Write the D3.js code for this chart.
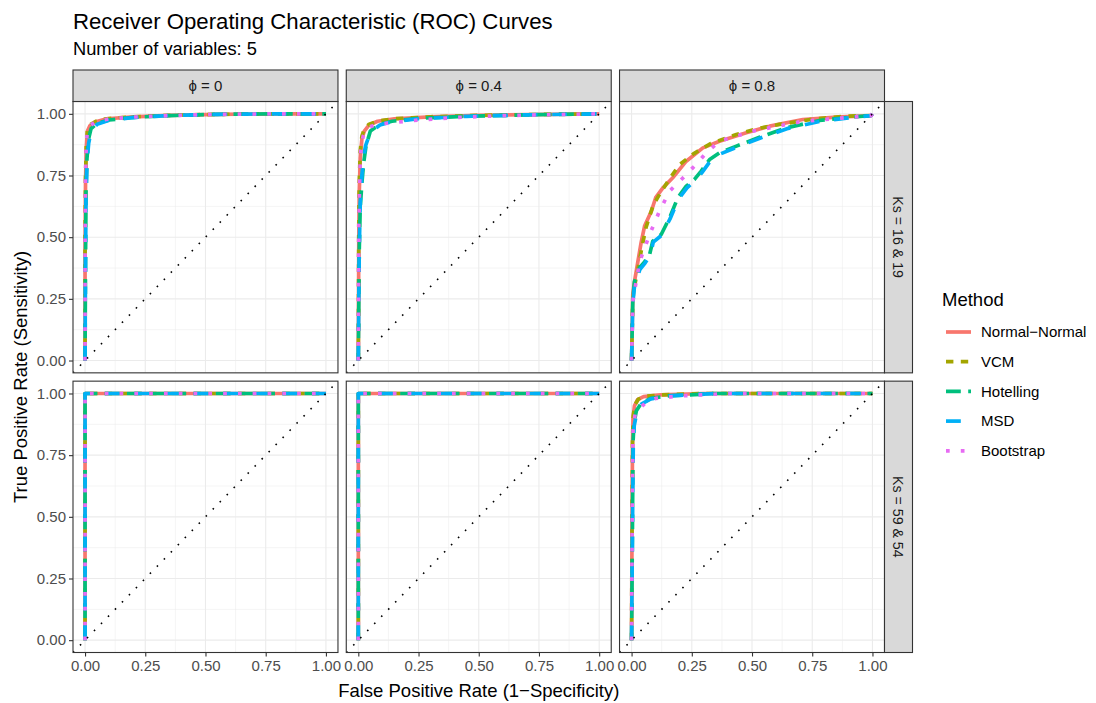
<!DOCTYPE html>
<html>
<head>
<meta charset="utf-8">
<script src="https://cdn.jsdelivr.net/npm/d3@7"></script>
<style>
body { margin: 0; background: #fff; }
text { font-family: "Liberation Sans", Arial, sans-serif; }
</style>
</head>
<body>
<script>
// ---- data ----
var methods = ["Normal\u2212Normal", "VCM", "Hotelling", "MSD", "Bootstrap"];
var colours = ["#F8766D", "#A3A500", "#00BF7D", "#00B0F6", "#E76BF3"];
var dashes = ["none", "7.4,7.4", "14.8,7.4", "14.8,14.8", "3.7,11.1"];
var phiLabels = ["\u03D5 = 0", "\u03D5 = 0.4", "\u03D5 = 0.8"];
var ksLabels = ["Ks = 16 & 19", "Ks = 59 & 54"];
var ticks = [0, 0.25, 0.5, 0.75, 1];
var minorTicks = [0.125, 0.375, 0.625, 0.875];

// [fpr, tpr] pairs, one array per method per panel
// Ks = 16 & 19, phi = 0
var r1c1_nn   = [[0,0],[0,0.45],[0.002,0.72],[0.005,0.86],[0.01,0.93],[0.02,0.952],[0.045,0.968],[0.09,0.98],[0.2,0.988],[0.35,0.994],[0.55,0.998],[0.8,1],[1,1]];
var r1c1_vcm  = [[0,0],[0,0.5],[0.002,0.74],[0.005,0.87],[0.01,0.935],[0.02,0.955],[0.045,0.97],[0.09,0.98],[0.2,0.988],[0.35,0.994],[0.55,0.998],[0.8,1],[1,1]];
var r1c1_hot  = [[0,0],[0.002,0.4],[0.004,0.68],[0.008,0.82],[0.015,0.9],[0.025,0.94],[0.05,0.962],[0.1,0.975],[0.2,0.986],[0.35,0.993],[0.55,0.998],[0.8,1],[1,1]];
var r1c1_msd  = [[0,0],[0.002,0.4],[0.004,0.66],[0.008,0.8],[0.015,0.88],[0.025,0.93],[0.05,0.958],[0.1,0.974],[0.2,0.985],[0.35,0.993],[0.55,0.998],[0.8,1],[1,1]];
var r1c1_boot = [[0,0],[0,0.5],[0.002,0.75],[0.005,0.88],[0.01,0.93],[0.02,0.952],[0.045,0.968],[0.09,0.978],[0.2,0.987],[0.35,0.993],[0.55,0.998],[0.8,1],[1,1]];
// Ks = 16 & 19, phi = 0.4
var r1c2_nn   = [[0,0],[0.002,0.5],[0.004,0.68],[0.008,0.82],[0.015,0.9],[0.025,0.93],[0.045,0.955],[0.08,0.97],[0.15,0.98],[0.3,0.988],[0.5,0.994],[0.8,0.998],[1,1]];
var r1c2_vcm  = [[0,0],[0.002,0.55],[0.004,0.72],[0.008,0.85],[0.015,0.91],[0.025,0.94],[0.045,0.958],[0.08,0.97],[0.15,0.98],[0.3,0.988],[0.5,0.994],[0.8,0.998],[1,1]];
var r1c2_hot  = [[0,0],[0.004,0.45],[0.008,0.62],[0.015,0.72],[0.022,0.8],[0.032,0.87],[0.05,0.93],[0.09,0.958],[0.14,0.97],[0.25,0.982],[0.45,0.99],[0.7,0.996],[1,1]];
var r1c2_msd  = [[0,0],[0.004,0.45],[0.008,0.64],[0.014,0.74],[0.02,0.81],[0.03,0.87],[0.05,0.925],[0.09,0.955],[0.14,0.968],[0.25,0.98],[0.45,0.99],[0.7,0.996],[1,1]];
var r1c2_boot = [[0,0],[0.002,0.55],[0.006,0.75],[0.01,0.85],[0.02,0.91],[0.04,0.945],[0.08,0.958],[0.15,0.965],[0.25,0.975],[0.4,0.985],[0.6,0.993],[1,1]];
// Ks = 16 & 19, phi = 0.8
var r1c3_nn   = [[0,0],[0.005,0.27],[0.012,0.32],[0.026,0.4],[0.04,0.48],[0.054,0.545],[0.082,0.605],[0.1,0.66],[0.13,0.7],[0.17,0.74],[0.227,0.808],[0.296,0.862],[0.365,0.889],[0.476,0.923],[0.573,0.95],[0.711,0.977],[0.85,0.987],[0.995,0.993],[1,1]];
var r1c3_vcm  = [[0,0],[0.005,0.25],[0.014,0.31],[0.03,0.39],[0.045,0.47],[0.06,0.54],[0.09,0.63],[0.12,0.68],[0.16,0.74],[0.2,0.795],[0.26,0.84],[0.33,0.88],[0.435,0.916],[0.52,0.94],[0.614,0.957],[0.75,0.978],[0.88,0.99],[0.995,0.993],[1,1]];
var r1c3_hot  = [[0,0],[0.005,0.24],[0.012,0.32],[0.033,0.376],[0.054,0.4],[0.075,0.43],[0.088,0.484],[0.123,0.511],[0.158,0.579],[0.192,0.66],[0.227,0.707],[0.261,0.734],[0.289,0.768],[0.324,0.815],[0.365,0.842],[0.435,0.869],[0.531,0.905],[0.642,0.943],[0.78,0.973],[0.919,0.987],[0.995,0.993],[1,1]];
var r1c3_msd  = [[0,0],[0.005,0.23],[0.013,0.31],[0.035,0.37],[0.056,0.395],[0.078,0.428],[0.09,0.48],[0.125,0.508],[0.16,0.575],[0.195,0.655],[0.23,0.7],[0.265,0.73],[0.292,0.762],[0.328,0.81],[0.37,0.838],[0.44,0.866],[0.535,0.902],[0.645,0.94],[0.785,0.97],[0.92,0.986],[0.995,0.993],[1,1]];
var r1c3_boot = [[0,0],[0.005,0.24],[0.033,0.4],[0.075,0.511],[0.116,0.606],[0.158,0.687],[0.213,0.74],[0.268,0.795],[0.31,0.842],[0.365,0.889],[0.504,0.93],[0.711,0.97],[0.995,0.993],[1,1]];
// Ks = 59 & 54, phi = 0 and 0.4
var r2c1_all  = [[0,0],[0,1],[1,1]];
var r2c2_all  = [[0,0],[0,1],[1,1]];
// Ks = 59 & 54, phi = 0.8
var r2c3_nn   = [[0,0],[0.002,0.5],[0.004,0.8],[0.006,0.9],[0.012,0.95],[0.025,0.975],[0.05,0.987],[0.12,0.994],[0.3,1],[1,1]];
var r2c3_vcm  = [[0,0],[0.002,0.52],[0.004,0.82],[0.007,0.91],[0.014,0.955],[0.028,0.977],[0.055,0.988],[0.12,0.994],[0.3,1],[1,1]];
var r2c3_hot  = [[0,0],[0.004,0.5],[0.006,0.8],[0.01,0.88],[0.02,0.93],[0.04,0.96],[0.08,0.98],[0.15,0.99],[0.35,1],[1,1]];
var r2c3_msd  = [[0,0],[0.004,0.48],[0.007,0.78],[0.011,0.87],[0.022,0.925],[0.042,0.958],[0.08,0.978],[0.15,0.99],[0.35,1],[1,1]];
var r2c3_boot = [[0,0],[0.003,0.6],[0.006,0.85],[0.015,0.92],[0.033,0.937],[0.06,0.965],[0.1,0.98],[0.2,0.99],[0.4,1],[1,1]];

var panelCurves = [
  [[r1c1_nn, r1c1_vcm, r1c1_hot, r1c1_msd, r1c1_boot],
   [r1c2_nn, r1c2_vcm, r1c2_hot, r1c2_msd, r1c2_boot],
   [r1c3_nn, r1c3_vcm, r1c3_hot, r1c3_msd, r1c3_boot]],
  [[r2c1_all, r2c1_all, r2c1_all, r2c1_all, r2c1_all],
   [r2c2_all, r2c2_all, r2c2_all, r2c2_all, r2c2_all],
   [r2c3_nn, r2c3_vcm, r2c3_hot, r2c3_msd, r2c3_boot]]
];

// ---- layout ----
var W = 1096, H = 703;
var pLeft = 73, pRight = 884.5, pTop = 101.5, pBottom = 652.5;
var gap = 8.3, stripH = 31.5, stripW = 28;
var pw = (pRight - pLeft - 2 * gap) / 3;
var ph = (pBottom - pTop - gap) / 2;
var lw = 3.7;
var fsTick = 15;

var svg = d3.select("body").append("svg").attr("width", W).attr("height", H);
svg.append("rect").attr("width", W).attr("height", H).attr("fill", "#fff");

var x = d3.scaleLinear().domain([-0.05, 1.05]).range([0, pw]);
var y = d3.scaleLinear().domain([-0.05, 1.05]).range([ph, 0]);

var line = d3.line().x(function(d) { return x(d[0]); }).y(function(d) { return y(d[1]); });

function gpos(a, b) { return "translate(" + a + "," + b + ")"; }

// title
svg.append("text").attr("x", pLeft).attr("y", 29).attr("font-size", 22.2).attr("fill", "#000")
  .text("Receiver Operating Characteristic (ROC) Curves");
svg.append("text").attr("x", pLeft).attr("y", 55).attr("font-size", 18.3).attr("fill", "#000")
  .text("Number of variables: 5");

var defs = svg.append("defs");
defs.append("clipPath").attr("id", "pclip").append("rect").attr("width", pw).attr("height", ph);

for (var r = 0; r < 2; r++) {
  for (var c = 0; c < 3; c++) {
    var px = pLeft + c * (pw + gap), py = pTop + r * (ph + gap);
    var g = svg.append("g").attr("transform", gpos(px, py));
    var inner = g.append("g").attr("clip-path", "url(#pclip)");

    inner.selectAll(".minx").data(minorTicks).enter().append("line")
      .attr("x1", x).attr("x2", x).attr("y1", 0).attr("y2", ph)
      .attr("stroke", "#ebebeb").attr("stroke-width", 0.55);
    inner.selectAll(".miny").data(minorTicks).enter().append("line")
      .attr("y1", y).attr("y2", y).attr("x1", 0).attr("x2", pw)
      .attr("stroke", "#ebebeb").attr("stroke-width", 0.55);
    inner.selectAll(".majx").data(ticks).enter().append("line")
      .attr("x1", x).attr("x2", x).attr("y1", 0).attr("y2", ph)
      .attr("stroke", "#ebebeb").attr("stroke-width", 1.1);
    inner.selectAll(".majy").data(ticks).enter().append("line")
      .attr("y1", y).attr("y2", y).attr("x1", 0).attr("x2", pw)
      .attr("stroke", "#ebebeb").attr("stroke-width", 1.1);

    inner.selectAll(".roc").data(panelCurves[r][c]).enter().append("path")
      .attr("d", line)
      .attr("fill", "none")
      .attr("stroke", function(d, i) { return colours[i]; })
      .attr("stroke-width", lw)
      .attr("stroke-dasharray", function(d, i) { return dashes[i]; })
      .attr("stroke-linejoin", "round");

    inner.append("line")
      .attr("x1", x(-0.05)).attr("y1", y(-0.05)).attr("x2", x(1.05)).attr("y2", y(1.05))
      .attr("stroke", "#000").attr("stroke-width", 1.6).attr("stroke-dasharray", "1.6,8.4");

    g.append("rect").attr("width", pw).attr("height", ph)
      .attr("fill", "none").attr("stroke", "#333").attr("stroke-width", 1.1);

    if (c === 0) {
      var ay = g.append("g").call(d3.axisLeft(y).tickValues(ticks).tickFormat(d3.format(".2f")).tickSize(4).tickPadding(3));
      ay.select(".domain").remove();
      ay.selectAll("line").attr("stroke", "#333").attr("stroke-width", 1.1);
      ay.selectAll("text").attr("fill", "#4d4d4d").attr("font-size", fsTick)
        .attr("font-family", "Liberation Sans, Arial, sans-serif");
    }
    if (r === 1) {
      var ax = g.append("g").attr("transform", gpos(0, ph))
        .call(d3.axisBottom(x).tickValues(ticks).tickFormat(d3.format(".2f")).tickSize(4).tickPadding(4));
      ax.select(".domain").remove();
      ax.selectAll("line").attr("stroke", "#333").attr("stroke-width", 1.1);
      ax.selectAll("text").attr("fill", "#4d4d4d").attr("font-size", fsTick)
        .attr("font-family", "Liberation Sans, Arial, sans-serif");
    }
    if (r === 0) {
      var sg = svg.append("g").attr("transform", gpos(px, pTop - stripH));
      sg.append("rect").attr("width", pw).attr("height", stripH)
        .attr("fill", "#d9d9d9").attr("stroke", "#333").attr("stroke-width", 1.1);
      sg.append("text").attr("x", pw / 2).attr("y", stripH / 2 + 5.3)
        .attr("text-anchor", "middle").attr("font-size", fsTick).attr("fill", "#1a1a1a")
        .text(phiLabels[c]);
    }
    if (c === 2) {
      var rg = svg.append("g").attr("transform", gpos(pRight, py));
      rg.append("rect").attr("width", stripW).attr("height", ph)
        .attr("fill", "#d9d9d9").attr("stroke", "#333").attr("stroke-width", 1.1);
      rg.append("text").attr("transform", gpos(stripW / 2 - 5.3, ph / 2) + " rotate(90)")
        .attr("text-anchor", "middle").attr("font-size", 14.2).attr("fill", "#1a1a1a")
        .text(ksLabels[r]);
    }
  }
}

// axis titles
svg.append("text").attr("x", (pLeft + pRight) / 2).attr("y", 697).attr("text-anchor", "middle")
  .attr("font-size", 18.5).attr("fill", "#000").text("False Positive Rate (1\u2212Specificity)");
svg.append("text").attr("transform", gpos(27, (pTop + pBottom) / 2) + " rotate(-90)")
  .attr("text-anchor", "middle").attr("font-size", 18.5).attr("fill", "#000")
  .text("True Positive Rate (Sensitivity)");

// legend
var lg = svg.append("g").attr("transform", gpos(942, 0));
lg.append("text").attr("x", 0).attr("y", 305.5).attr("font-size", 18.5).attr("fill", "#000").text("Method");
var items = lg.selectAll(".key").data(methods).enter().append("g")
  .attr("transform", function(d, i) { return gpos(0, 332 + i * 29.7); });
items.append("line").attr("x1", 4).attr("x2", 29).attr("y1", 0).attr("y2", 0)
  .attr("stroke", function(d, i) { return colours[i]; })
  .attr("stroke-width", lw)
  .attr("stroke-dasharray", function(d, i) { return dashes[i]; });
items.append("text").attr("x", 39).attr("y", 5.3).attr("font-size", fsTick).attr("fill", "#000")
  .text(function(d) { return d; });
</script>
</body>
</html>
